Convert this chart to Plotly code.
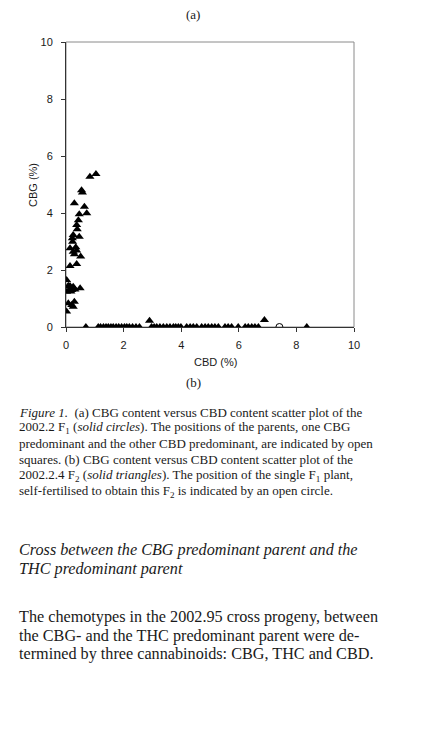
import plotly.graph_objects as go

# F2 plants (solid triangles): CBD % and CBG %
f2_cbd = [1.04, 0.83, 0.54, 0.57, 0.29, 0.64, 0.72, 0.46, 0.43, 0.37, 0.39, 0.46,
          0.25, 0.22, 0.23, 0.14, 0.34, 0.37, 0.25, 0.29, 0.51, 0.37, 0.14, 0.02,
          0.14, 0.25, 0.12, 0.31, 0.49, 0.02, 0.20, 0.08, 0.17, 0.08, 0.25, 0.29,
          0.20, 0.02, 2.90, 6.89,
          0.69, 1.12, 1.20, 1.30, 1.39, 1.47, 1.56, 1.64, 1.74, 1.83, 1.93, 2.03,
          2.11, 2.20, 2.31, 2.43, 2.55, 2.97, 3.06, 3.15, 3.26, 3.38, 3.50, 3.61,
          3.73, 3.81, 3.90, 3.99, 4.19, 4.31, 4.42, 4.54, 4.71, 4.83, 4.94, 5.06,
          5.17, 5.29, 5.52, 5.63, 5.75, 5.98, 6.22, 6.33, 6.45, 6.56, 6.68, 8.36]
f2_cbg = [5.37, 5.27, 4.80, 4.72, 4.34, 4.22, 3.99, 3.96, 3.75, 3.58, 3.43, 3.17,
          3.23, 3.11, 2.99, 2.76, 2.80, 2.68, 2.64, 2.55, 2.47, 2.21, 2.14, 1.65,
          1.44, 1.41, 1.32, 1.32, 1.36, 1.24, 1.30, 1.45, 1.25, 0.83, 0.71, 0.89,
          0.77, 0.54, 0.22, 0.25,
          0, 0, 0, 0, 0, 0, 0, 0, 0, 0, 0, 0,
          0, 0, 0, 0, 0, 0, 0, 0, 0, 0, 0, 0,
          0, 0, 0, 0, 0, 0, 0, 0, 0, 0, 0, 0,
          0, 0, 0, 0, 0, 0, 0, 0, 0, 0, 0, 0]

# the single self-fertilised F1 plant (open circle)
f1_cbd = [7.41]
f1_cbg = [0]

ticks = [0, 2, 4, 6, 8, 10]

caption = [
    "<i>Figure 1.</i>  (a) CBG content versus CBD content scatter plot of the",
    "2002.2 F<sub>1</sub> (<i>solid circles</i>). The positions of the parents, one CBG",
    "predominant and the other CBD predominant, are indicated by open",
    "squares. (b) CBG content versus CBD content scatter plot of the",
    "2002.2.4 F<sub>2</sub> (<i>solid triangles</i>). The position of the single F<sub>1</sub> plant,",
    "self-fertilised to obtain this F<sub>2</sub> is indicated by an open circle.",
]
heading = [
    "Cross between the CBG predominant parent and the",
    "THC predominant parent",
]
paragraph = [
    "The chemotypes in the 2002.95 cross progeny, between",
    "the CBG- and the THC predominant parent were de-",
    "termined by three cannabinoids: CBG, THC and CBD.",
]

# page offset (body margin) and plot area in page pixels
OFF = 8
W, H = 423 - OFF, 750 - OFF
L, R, T, B = 66 - OFF, 354 - OFF, 42 - OFF, 327 - OFF


def px(x):
    return (x - OFF - L) / (R - L)


def py(y):
    return (B - (y - OFF)) / (B - T)


fig = go.Figure()

fig.add_trace(go.Scatter(
    x=f2_cbd, y=f2_cbg, mode="markers",
    marker=dict(symbol="triangle-up", size=8, color="black"),
    cliponaxis=True, showlegend=False,
))
fig.add_trace(go.Scatter(
    x=f1_cbd, y=f1_cbg, mode="markers",
    marker=dict(symbol="circle-open", size=7, color="black", line=dict(width=1)),
    cliponaxis=True, showlegend=False,
))

serif = "Liberation Serif"
sans = "Liberation Sans"
txt = "#1a1a1a"
annotations = [
    dict(x=px(193), y=py(15), text="(a)", font=dict(family=serif, size=13, color=txt)),
    dict(x=px(193), y=py(382), text="(b)", font=dict(family=serif, size=13, color=txt)),
    dict(x=px(215), y=py(362), text="CBD (%)", font=dict(family=sans, size=11, color=txt)),
    dict(x=px(33), y=py(185), text="CBG (%)", textangle=-90,
         font=dict(family=sans, size=11, color=txt)),
]
for i, line in enumerate(caption):
    annotations.append(dict(x=px(17), y=py(412 + i * 15.8), text=line, xanchor="left",
                            font=dict(family=serif, size=13, color=txt)))
for i, line in enumerate(heading):
    annotations.append(dict(x=px(17), y=py(550 + i * 19), text="<i>" + line + "</i>",
                            xanchor="left", font=dict(family=serif, size=16.2, color=txt)))
for i, line in enumerate(paragraph):
    annotations.append(dict(x=px(17), y=py(617 + i * 18.5), text=line, xanchor="left",
                            font=dict(family=serif, size=16.2, color=txt)))
for a in annotations:
    a.update(xref="paper", yref="paper", showarrow=False)
    a.setdefault("xanchor", "center")
    a.setdefault("yanchor", "middle")

fig.update_layout(
    width=W, height=H,
    margin=dict(l=L, r=W - R, t=T, b=H - B),
    paper_bgcolor="white", plot_bgcolor="white",
    annotations=annotations,
    shapes=[dict(type="rect", xref="paper", yref="paper", x0=0, y0=0, x1=1, y1=1,
                 line=dict(color="#8a8a8a", width=1), layer="below")],
    font=dict(family=sans, size=11, color=txt),
)
fig.update_xaxes(range=[0, 10], tickvals=ticks, ticks="outside", ticklen=4,
                 tickcolor="#333", showline=True, linecolor="#333", linewidth=1,
                 showgrid=False, zeroline=False, fixedrange=True, ticklabelstandoff=4)
fig.update_yaxes(range=[0, 10], tickvals=ticks, ticks="outside", ticklen=4,
                 tickcolor="#333", showline=True, linecolor="#333", linewidth=1,
                 showgrid=False, zeroline=False, fixedrange=True, ticklabelstandoff=6)

fig.write_html("out.html", config={"displayModeBar": False})
